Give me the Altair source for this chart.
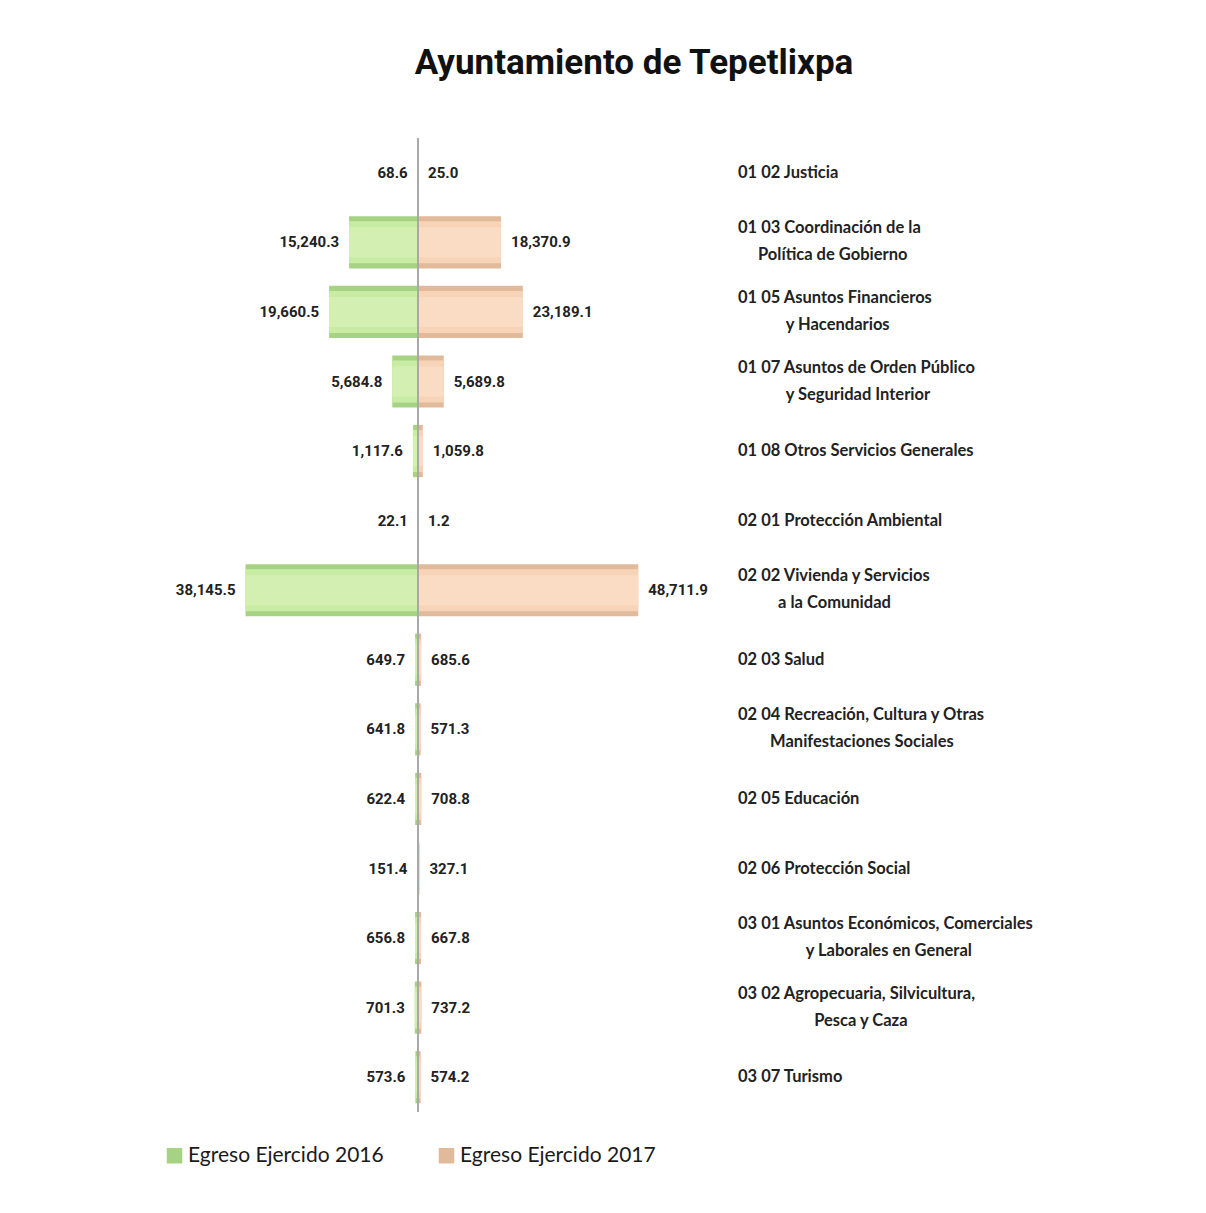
import altair as alt
import pandas as pd

NB = "\u00a0"
ZW = "\u200b"


def second(n, text):
    return "|" + ZW + NB * n + text


title_text = "Ayuntamiento de Tepetlixpa"
series_names = ["Egreso Ejercido 2016", "Egreso Ejercido 2017"]

categories = [
    "01 02 Justicia",
    "01 03 Coordinación de la" + second(5, "Política de Gobierno"),
    "01 05 Asuntos Financieros" + second(12, "y Hacendarios"),
    "01 07 Asuntos de Orden Público" + second(12, "y Seguridad Interior"),
    "01 08 Otros Servicios Generales",
    "02 01 Protección Ambiental",
    "02 02 Vivienda y Servicios" + second(10, "a la Comunidad"),
    "02 03 Salud",
    "02 04 Recreación, Cultura y Otras" + second(8, "Manifestaciones Sociales"),
    "02 05 Educación",
    "02 06 Protección Social",
    "03 01 Asuntos Económicos, Comerciales" + second(17, "y Laborales en General"),
    "03 02 Agropecuaria, Silvicultura," + second(19, "Pesca y Caza"),
    "03 07 Turismo",
]

egreso_2016 = [68.6, 15240.3, 19660.5, 5684.8, 1117.6, 22.1, 38145.5,
               649.7, 641.8, 622.4, 151.4, 656.8, 701.3, 573.6]
egreso_2017 = [25.0, 18370.9, 23189.1, 5689.8, 1059.8, 1.2, 48711.9,
               685.6, 571.3, 708.8, 327.1, 667.8, 737.2, 574.2]

rows = []
for i, (c, a, b) in enumerate(zip(categories, egreso_2016, egreso_2017)):
    rows.append({"cat": c, "order": i, "series": series_names[0], "value": a,
                 "signed": -a, "label": f"{a:,.1f}"})
    rows.append({"cat": c, "order": i, "series": series_names[1], "value": b,
                 "signed": b, "label": f"{b:,.1f}"})
df = pd.DataFrame(rows)
cat_df = pd.DataFrame({"cat": categories, "order": list(range(len(categories))),
                       "zero": [0.0] * len(categories)})

xscale = alt.Scale(domain=[-59280, 66360], nice=False, zero=False)
yscale = alt.Scale(paddingInner=0.25, paddingOuter=0.125)

X = alt.X("signed:Q", scale=xscale, axis=None)
Y = alt.Y("cat:N", sort=alt.EncodingSortField(field="order", op="min"),
          scale=yscale, axis=None)

base = alt.Chart(df)

bars = base.mark_bar().encode(
    x=X, y=Y,
    color=alt.Color(
        "series:N",
        scale=alt.Scale(domain=series_names, range=["#a6d283", "#e0ba9a"]),
        legend=alt.Legend(
            title=None, orient="none", legendX=14, legendY=1007,
            direction="horizontal", symbolType="square", symbolSize=240,
            labelFont="Lato", labelFontSize=21, labelColor="#1a1a1a",
            columnPadding=52, labelOffset=3, labelLimit=400,
        ),
    ),
)

face16 = base.transform_filter(alt.datum.series == series_names[0]).mark_bar(
    size=42, color="#c9eca4").encode(x=X, y=Y)
face17 = base.transform_filter(alt.datum.series == series_names[1]).mark_bar(
    size=42, color="#f7d4b7").encode(x=X, y=Y)
shine16 = base.transform_filter(alt.datum.series == series_names[0]).mark_bar(
    size=30, color="#d3f0b2").encode(x=X, y=Y)
shine17 = base.transform_filter(alt.datum.series == series_names[1]).mark_bar(
    size=30, color="#f9dcc3").encode(x=X, y=Y)

center = alt.Chart(cat_df).mark_rule(color="#a8a8a8", strokeWidth=1).encode(
    x=alt.X("zero:Q", scale=xscale, axis=None)
)

num_font = "Roboto"
left_text = base.transform_filter(
    alt.datum.series == series_names[0]
).mark_text(align="right", baseline="middle", dx=-10, font=num_font,
            fontSize=15, fontWeight="bold", color="#222222").encode(
    x=X, y=Y, text="label:N",
)
right_text = base.transform_filter(
    alt.datum.series == series_names[1]
).mark_text(align="left", baseline="middle", dx=10, font=num_font,
            fontSize=15, fontWeight="bold", color="#222222").encode(
    x=X, y=Y, text="label:N",
)

cat_single = alt.Chart(cat_df).transform_filter(
    "indexof(datum.cat, '|') < 0"
).mark_text(
    align="left", baseline="middle", font="Lato", fontWeight="bold",
    fontSize=16.5, color="#222222",
).encode(
    x=alt.value(588), y=Y, text="cat:N",
)
cat_multi = alt.Chart(cat_df).transform_filter(
    "indexof(datum.cat, '|') >= 0"
).mark_text(
    align="left", baseline="middle", font="Lato", fontWeight="bold",
    fontSize=16.5, color="#222222", lineBreak="|", lineHeight=27, dy=-14,
).encode(
    x=alt.value(588), y=Y, text="cat:N",
)

chart = alt.layer(
    bars, face16, face17, shine16, shine17, center,
    left_text, right_text, cat_single, cat_multi,
).properties(
    width=568, height=974,
    padding={"left": 142, "top": 37, "right": 10, "bottom": 10},
    title=alt.TitleParams(
        title_text, font=num_font, fontSize=35, fontWeight="bold",
        color="#111111", anchor="middle", dx=200, offset=57,
    ),
).configure_view(stroke=None)

chart.save("out.html", embed_options={"renderer": "svg", "actions": False})
